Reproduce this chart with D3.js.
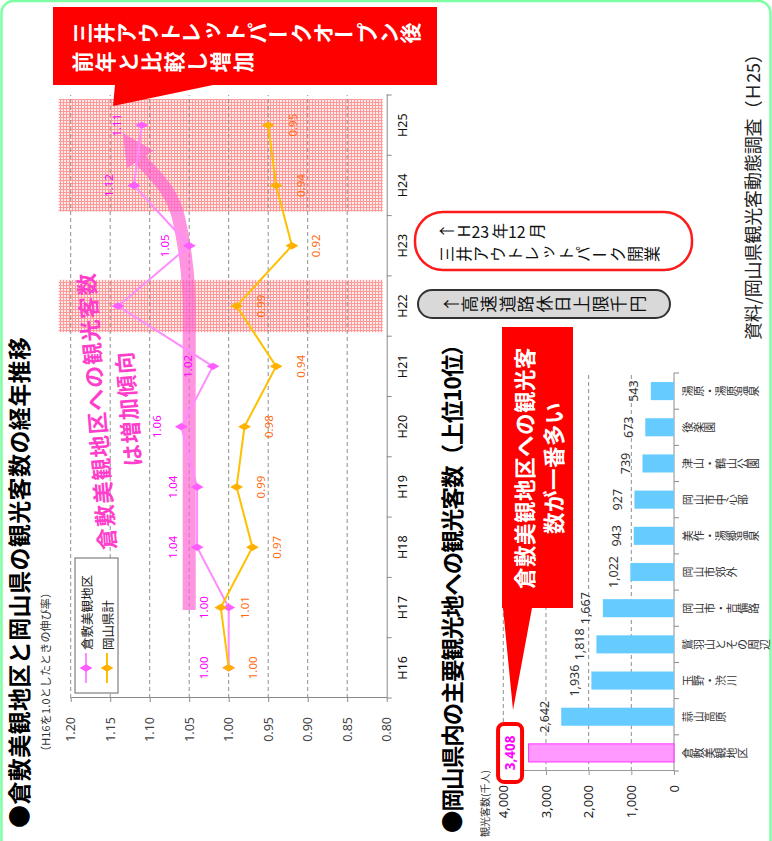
<!DOCTYPE html>
<html>
<head>
<meta charset="utf-8">
<script src="https://cdn.jsdelivr.net/npm/d3@7"></script>
<style>
  html, body { margin: 0; padding: 0; background: #fff; }
  svg { display: block; font-family: "Noto Sans CJK JP", "Noto Sans", sans-serif; }
</style>
</head>
<body>
<svg id="chart" width="772" height="841"></svg>
<script>
// ---- data: growth ratio (H16 = 1.0) ----
const years = ["H16", "H17", "H18", "H19", "H20", "H21", "H22", "H23", "H24", "H25"];
const kurashikiRatio = [1.00, 1.00, 1.04, 1.04, 1.06, 1.02, 1.14, 1.05, 1.12, 1.11];
const okayamaRatio   = [1.00, 1.01, 0.97, 0.99, 0.98, 0.94, 0.99, 0.92, 0.94, 0.95];
const ratioTicks = [0.80, 0.85, 0.90, 0.95, 1.00, 1.05, 1.10, 1.15, 1.20];
const seriesNames = ["倉敷美観地区", "岡山県計"];
const hiddenKurashikiLabels = ["H22"];
const highlightSpans = [["H22", "H22"], ["H24", "H25"]];

// ---- data: visitors to main sights (thousand people) ----
const spots = ["倉敷美観地区", "蒜山高原", "玉野・渋川", "鷲羽山とその周辺", "岡山市・吉備路",
               "岡山市郊外", "美作・湯郷温泉", "岡山市中心部", "津山・鶴山公園", "後楽園", "湯原・湯原温泉"];
const visitors = [3408, 2642, 1936, 1818, 1667, 1022, 943, 927, 739, 673, 543];
const visitorTicks = [0, 1000, 2000, 3000, 4000];

// ---- page: drawn in a landscape frame, then turned a quarter turn ----
const PW = 841, PH = 772;
const svg = d3.select("#chart");
const defs = svg.append("defs");

const hatch = defs.append("pattern").attr("id", "hatch")
  .attr("patternUnits", "userSpaceOnUse").attr("width", 3).attr("height", 3);
hatch.append("rect").attr("width", 3).attr("height", 3).attr("fill", "#ffeaea");
hatch.append("path").attr("d", "M0,0.5H3M0.5,0V3").attr("stroke", "#ff9a9a").attr("stroke-width", 1);

const page = svg.append("g").attr("transform", `translate(0,${PW}) rotate(-90)`);

// outer frame
page.append("rect").attr("x", -40).attr("y", 1.5).attr("width", 880).attr("height", PH - 3)
  .attr("rx", 12).attr("fill", "#fff").attr("stroke", "#7dffa4").attr("stroke-width", 2.5);

// vertical (tategaki) text helper
function verticalText(parent, str, cx, top, o) {
  const size = o.size, pitch = o.pitch || size;
  const g = parent.append("g").attr("font-size", size).attr("fill", o.fill)
    .attr("font-weight", o.weight || "normal");
  const tokens = str.match(/[\x21-\x7e]+|./gu);
  let y = top;
  tokens.forEach(tok => {
    if (/^[\x21-\x7e]+$/.test(tok)) {
      const adv = tok.length * size * 0.58;
      const cy = y + adv / 2;
      g.append("text").attr("x", cx).attr("y", cy)
        .attr("text-anchor", "middle").attr("dominant-baseline", "central")
        .attr("transform", `rotate(90 ${cx} ${cy})`).text(tok);
      y += adv + 1;
    } else {
      const cy = y + pitch / 2;
      const t = g.append("text").attr("x", cx).attr("y", cy)
        .attr("text-anchor", "middle").attr("dominant-baseline", "central").text(tok);
      if (/[ー－]/.test(tok)) t.attr("transform", `rotate(90 ${cx} ${cy})`);
      if (/[ァィゥェォッャュョぁぃぅぇぉっゃゅょ]/.test(tok)) t.attr("x", cx + size * 0.12).attr("y", cy - size * 0.14);
      y += pitch;
    }
  });
}

// ================= line chart =================
page.append("text").attr("x", 13).attr("y", 18)
  .attr("dominant-baseline", "central").attr("font-size", 23).attr("font-weight", 700)
  .attr("fill", "#000").attr("textLength", 491).attr("lengthAdjust", "spacing")
  .text("●倉敷美観地区と岡山県の観光客数の経年推移");
page.append("text").attr("x", 84).attr("y", 45)
  .attr("dominant-baseline", "central").attr("font-size", 11).attr("fill", "#333")
  .attr("textLength", 170).attr("lengthAdjust", "spacing")
  .text("（H16を1.0としたときの伸び率）");

const xYear = d3.scaleBand().domain(years).range([143, 746]);
const yRatio = d3.scaleLinear().domain([0.80, 1.20]).range([386.7, 70.7]);
const yearCenter = f => xYear.range()[0] + (f + 0.5) * xYear.step();

// highlighted years
highlightSpans.forEach(([a, b]) => {
  page.append("rect")
    .attr("x", xYear(a) + 4).attr("y", yRatio(1.20) - 12)
    .attr("width", xYear(b) + xYear.step() - 4 - (xYear(a) + 4))
    .attr("height", yRatio(0.80) - 4 - (yRatio(1.20) - 12))
    .attr("fill", "url(#hatch)");
});

// gridlines
page.append("g").selectAll("line").data(ratioTicks.filter(t => t > 0.80)).join("line")
  .attr("x1", xYear.range()[0]).attr("x2", xYear.range()[1])
  .attr("y1", d => yRatio(d)).attr("y2", d => yRatio(d))
  .attr("stroke", "#8f8f8f").attr("stroke-width", 1).attr("stroke-dasharray", "4,3");

// value axis
const yAxisG = page.append("g").attr("transform", `translate(${xYear.range()[0]},0)`)
  .call(d3.axisLeft(yRatio).tickValues(ratioTicks).tickFormat(d3.format(".2f"))
    .tickSize(4).tickSizeOuter(0).tickPadding(15));
yAxisG.selectAll("path, line").attr("stroke", "#8a8a8a");
yAxisG.selectAll("text").attr("font-size", 12.5).attr("fill", "#444")
  .attr("font-family", "'Noto Sans', sans-serif");

// year axis
const xAxisG = page.append("g").attr("transform", `translate(0,${yRatio(0.80)})`)
  .call(d3.axisBottom(xYear).tickSize(0).tickPadding(11));
xAxisG.select("path").attr("stroke", "#8a8a8a");
xAxisG.selectAll("text").attr("font-size", 12.5).attr("fill", "#111")
  .attr("font-family", "'Noto Sans', sans-serif");
page.append("g").selectAll("line").data(d3.range(years.length + 1)).join("line")
  .attr("x1", i => xYear.range()[0] + i * xYear.step())
  .attr("x2", i => xYear.range()[0] + i * xYear.step())
  .attr("y1", yRatio(0.80)).attr("y2", yRatio(0.80) + 5)
  .attr("stroke", "#8a8a8a");

// rising-trend arrow (annotation, in year / ratio units)
const trendPath = [[0.96, 1.050], [5.9, 1.050], [7.1, 1.058], [7.91, 1.078], [8.43, 1.112]];
const trendTip = [8.87, 1.134];
const tp = trendPath.map(([f, r]) => [yearCenter(f), yRatio(r)]);
const tipPt = [yearCenter(trendTip[0]), yRatio(trendTip[1])];
page.append("path").attr("d", d3.line().curve(d3.curveMonotoneX)(tp))
  .attr("fill", "none").attr("stroke", "#ff62d2").attr("stroke-opacity", 0.68)
  .attr("stroke-width", 13);
{
  const end = tp[tp.length - 1];
  const dx = tipPt[0] - end[0], dy = tipPt[1] - end[1];
  const len = Math.hypot(dx, dy), nx = -dy / len, ny = dx / len, hw = 16;
  page.append("path")
    .attr("d", `M${end[0] + nx * hw},${end[1] + ny * hw}L${tipPt[0]},${tipPt[1]}L${end[0] - nx * hw},${end[1] - ny * hw}Z`)
    .attr("fill", "#ff62d2").attr("fill-opacity", 0.68);
}

// series lines
const diamond = d3.symbol().type(d3.symbolDiamond).size(48);
const series = [
  { name: seriesNames[0], values: kurashikiRatio, line: "#ff8cff", mark: "#ff5cff", label: "#ff00ff", dy: -25 },
  { name: seriesNames[1], values: okayamaRatio, line: "#ffc000", mark: "#ffb000", label: "#ff6a10", dy: 24 }
];
const lineGen = d3.line().x((d, i) => xYear(years[i]) + xYear.bandwidth() / 2).y(d => yRatio(d));
series.forEach(s => {
  page.append("path").attr("d", lineGen(s.values)).attr("fill", "none")
    .attr("stroke", s.line).attr("stroke-width", 2);
  page.append("g").selectAll("path").data(s.values).join("path")
    .attr("d", diamond)
    .attr("transform", (d, i) => `translate(${xYear(years[i]) + xYear.bandwidth() / 2},${yRatio(d)})`)
    .attr("fill", s.mark);
});
// value labels
series.forEach((s, si) => {
  page.append("g").selectAll("text")
    .data(s.values.map((v, i) => ({ v, yr: years[i] }))
      .filter(d => si !== 0 || !hiddenKurashikiLabels.includes(d.yr)))
    .join("text")
    .attr("x", d => xYear(d.yr) + xYear.bandwidth() / 2)
    .attr("y", d => yRatio(d.v) + s.dy)
    .attr("text-anchor", "middle").attr("dominant-baseline", "central")
    .attr("font-size", 11.5).attr("fill", s.label)
    .attr("font-family", "'Noto Sans', sans-serif")
    .text(d => d3.format(".2f")(d.v));
});

// legend
{
  const lg = page.append("g").attr("transform", "translate(148,75)");
  lg.append("rect").attr("width", 135).attr("height", 43).attr("fill", "#fff").attr("stroke", "#666");
  series.forEach((s, i) => {
    const cy = 11 + i * 21;
    lg.append("line").attr("x1", 10).attr("x2", 40).attr("y1", cy).attr("y2", cy)
      .attr("stroke", s.line).attr("stroke-width", 2);
    lg.append("path").attr("d", diamond).attr("transform", `translate(25,${cy})`).attr("fill", s.mark);
    lg.append("text").attr("x", 43).attr("y", cy).attr("dominant-baseline", "central")
      .attr("font-size", 12.5).attr("fill", "#222").text(s.name);
  });
}

// trend message
{
  const tg = page.append("g").attr("transform", "translate(431,111) rotate(-4.5)")
    .attr("font-size", 22).attr("font-weight", 700).attr("fill", "#ff3fcc")
    .attr("text-anchor", "middle").attr("dominant-baseline", "central");
  tg.append("text").attr("y", -16).attr("letter-spacing", 1.2).text("倉敷美観地区への観光客数");
  tg.append("text").attr("y", 16).attr("letter-spacing", 1.2).text("は増加傾向");
}

// callout: outlet opening
page.append("path")
  .attr("d", "M756,53H834V437H756V213L735,113L756,115Z")
  .attr("fill", "#ff0000");
verticalText(page, "三井アウトレットパークオープン後", 808, 70, { size: 21, pitch: 21.9, fill: "#fff", weight: 700 });
verticalText(page, "前年と比較し増加", 779, 70, { size: 21, pitch: 22.9, fill: "#fff", weight: 700 });

// event notes
page.append("rect").attr("x", 571).attr("y", 415).attr("width", 58).attr("height", 277)
  .attr("rx", 28).attr("fill", "#fff").attr("stroke", "#ff1a1a").attr("stroke-width", 2.5);
verticalText(page, "↑Ｈ23年12月", 610, 437, { size: 16, pitch: 17, fill: "#111" });
verticalText(page, "三井アウトレットパーク開業", 587, 437, { size: 16, pitch: 17.1, fill: "#111" });

page.append("rect").attr("x", 523).attr("y", 418).attr("width", 28).attr("height", 252)
  .attr("rx", 14).attr("fill", "#d9d9d9").attr("stroke", "#333").attr("stroke-width", 2);
verticalText(page, "↑高速道路休日上限千円", 537, 441, { size: 17, pitch: 18.6, fill: "#111" });

// source
page.append("text").attr("x", 501).attr("y", 752).attr("dominant-baseline", "central")
  .attr("font-size", 18).attr("fill", "#222").attr("textLength", 295).attr("lengthAdjust", "spacing")
  .text("資料/岡山県観光客動態調査（Ｈ25）");

// ================= bar chart =================
page.append("text").attr("x", 8).attr("y", 451)
  .attr("dominant-baseline", "central").attr("font-size", 22.5).attr("font-weight", 700)
  .attr("fill", "#000").attr("textLength", 500).attr("lengthAdjust", "spacing")
  .text("●岡山県内の主要観光地への観光客数（上位10位）");

const xSpot = d3.scaleBand().domain(spots).range([70, 468]).paddingInner(0.5).paddingOuter(0.25);
const yVis = d3.scaleLinear().domain([0, 4000]).range([674, 503.3]);
const spotCenter = d => xSpot(d) + xSpot.bandwidth() / 2;

page.append("text").attr("x", 4).attr("y", 484).attr("dominant-baseline", "central")
  .attr("font-size", 10).attr("fill", "#333").text("観光客数(千人)");

page.append("g").selectAll("line").data(visitorTicks.filter(t => t > 0)).join("line")
  .attr("x1", xSpot.range()[0]).attr("x2", xSpot.range()[1])
  .attr("y1", d => yVis(d)).attr("y2", d => yVis(d))
  .attr("stroke", "#8f8f8f").attr("stroke-dasharray", "4,3");

const vAxisG = page.append("g").attr("transform", `translate(${xSpot.range()[0]},0)`)
  .call(d3.axisLeft(yVis).tickValues(visitorTicks).tickFormat(d3.format(","))
    .tickSize(4).tickSizeOuter(0).tickPadding(10));
vAxisG.selectAll("path, line").attr("stroke", "#9a9a9a");
vAxisG.selectAll("text").attr("font-size", 13).attr("fill", "#222")
  .attr("font-family", "'Noto Sans', sans-serif");

// category axis
page.append("line").attr("x1", xSpot.range()[0]).attr("x2", xSpot.range()[1])
  .attr("y1", yVis(0)).attr("y2", yVis(0)).attr("stroke", "#8a8a8a");
page.append("g").selectAll("line").data(d3.range(spots.length + 1)).join("line")
  .attr("x1", i => xSpot.range()[0] + i * xSpot.step())
  .attr("x2", i => xSpot.range()[0] + i * xSpot.step())
  .attr("y1", yVis(0)).attr("y2", yVis(0) + 5).attr("stroke", "#8a8a8a");
spots.forEach(s => verticalText(page, s, spotCenter(s), 682, { size: 11, pitch: 10.9, fill: "#333" }));

// bars
page.append("g").selectAll("rect").data(visitors).join("rect")
  .attr("x", (d, i) => xSpot(spots[i]))
  .attr("y", d => yVis(d))
  .attr("width", xSpot.bandwidth())
  .attr("height", d => yVis(0) - yVis(d))
  .attr("fill", (d, i) => i === 0 ? "#ff99ff" : "#66ccff")
  .attr("stroke", (d, i) => i === 0 ? "#ff33ff" : "none")
  .attr("stroke-width", 1);

// bar values
page.append("g").selectAll("text").data(visitors.slice(1)).join("text")
  .attr("x", (d, i) => spotCenter(spots[i + 1]))
  .attr("y", d => yVis(d) - 17)
  .attr("text-anchor", "middle").attr("dominant-baseline", "central")
  .attr("font-size", 12.5).attr("fill", "#333")
  .attr("font-family", "'Noto Sans', sans-serif")
  .text(d => d3.format(",")(d));
{
  const cx = spotCenter(spots[0]), cy = yVis(visitors[0]) - 18.5;
  page.append("rect").attr("x", cx - 29).attr("y", cy - 12).attr("width", 58).attr("height", 24)
    .attr("rx", 6).attr("fill", "#fff").attr("stroke", "#ff0000").attr("stroke-width", 4);
  page.append("text").attr("x", cx).attr("y", cy)
    .attr("text-anchor", "middle").attr("dominant-baseline", "central")
    .attr("font-size", 13.5).attr("font-weight", 700).attr("fill", "#ff00ff")
    .attr("font-family", "'Noto Sans', sans-serif")
    .text(d3.format(",")(visitors[0]));
}

// callout: most visited
page.append("path")
  .attr("d", "M233,502H514V573H233V532L131,513L233,503Z")
  .attr("fill", "#ff0000");
{
  const cg = page.append("g").attr("font-size", 21.5).attr("font-weight", 700).attr("fill", "#fff")
    .attr("text-anchor", "middle").attr("dominant-baseline", "central");
  cg.append("text").attr("x", 373).attr("y", 523).attr("letter-spacing", 0.5).text("倉敷美観地区への観光客");
  cg.append("text").attr("x", 373).attr("y", 552).attr("letter-spacing", 0.5).text("数が一番多い");
}
</script>
</body>
</html>
